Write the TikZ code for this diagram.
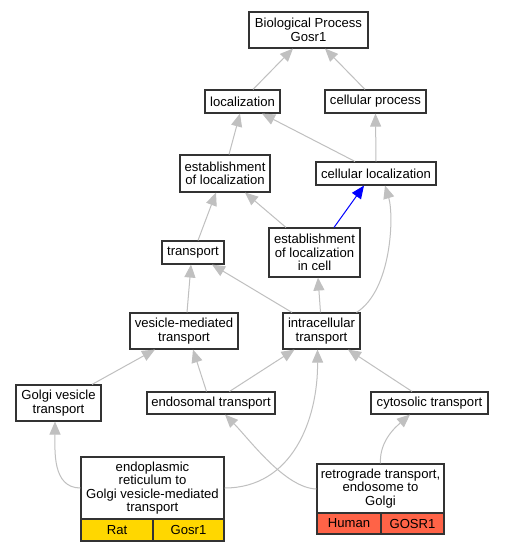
\documentclass[tikz,border=0pt]{standalone}
\usepackage{fontspec}
\setmainfont{Liberation Sans}
\usetikzlibrary{arrows.meta}
\definecolor{boxline}{HTML}{333333}
\definecolor{edgegray}{HTML}{C0C0C0}
\definecolor{ratyellow}{HTML}{FFD700}
\definecolor{humanred}{HTML}{FF6347}
\tikzset{
  term/.style={draw=boxline, line width=1.1pt, fill=white, align=center, inner sep=0pt,
    font=\fontsize{13.1}{13.4}\selectfont},
  cell/.style={draw=boxline, line width=1.1pt, align=center, inner sep=0pt,
    font=\fontsize{13.1}{13.4}\selectfont},
  isa/.style={draw=edgegray, line width=1pt, -{Triangle[length=13pt,width=11pt]}, color=edgegray},
  blueedge/.style={draw=blue, line width=1pt, -{Triangle[length=13pt,width=11pt]}, color=blue}
}
\begin{document}
\begin{tikzpicture}[x=1pt,y=-1pt]
\useasboundingbox (0,0) rectangle (504,552);
\fill[white] (0,0) rectangle (504,552);
% nodes
\node[term, minimum width=119pt, minimum height=36pt] (bp) at (308.5,30) {Biological Process\\Gosr1};
\node[term, minimum width=75pt, minimum height=23pt] (loc) at (242.5,101.5) {localization};
\node[term, minimum width=101pt, minimum height=23pt] (cp) at (375.5,101.5) {cellular process};
\node[term, minimum width=90pt, minimum height=37pt] (eol) at (225,173.5) {establishment\\of localization};
\node[term, minimum width=120pt, minimum height=23pt] (cl) at (376,173.5) {cellular localization};
\node[term, minimum width=62pt, minimum height=23pt] (tr) at (193,252.5) {transport};
\node[term, minimum width=91pt, minimum height=49pt] (eolc) at (314.5,252.5) {establishment\\of localization\\in cell};
\node[term, minimum width=108pt, minimum height=36pt] (vm) at (184,331) {vesicle-mediated\\transport};
\node[term, minimum width=77pt, minimum height=36pt] (it) at (321.5,331) {intracellular\\transport};
\node[term, minimum width=85pt, minimum height=36pt] (gvt) at (58.5,403) {Golgi vesicle\\transport};
\node[term, minimum width=128pt, minimum height=22pt] (end) at (211,403) {endosomal transport};
\node[term, minimum width=117pt, minimum height=22pt] (cyt) at (429.5,403) {cytosolic transport};
% ER to Golgi
\node[term, minimum width=143pt, minimum height=62pt] (er) at (152.5,488) {endoplasmic\\reticulum to\\Golgi vesicle-mediated\\transport};
\node[cell, fill=ratyellow, minimum width=72pt, minimum height=22pt] (errat) at (117,530) {Rat};
\node[cell, fill=ratyellow, minimum width=71pt, minimum height=22pt] (ergene) at (188.5,530) {Gosr1};
% retrograde
\node[term, minimum width=127pt, minimum height=49pt] (rt) at (380.5,488.5) {retrograde transport,\\endosome to\\Golgi};
\node[cell, fill=humanred, minimum width=64pt, minimum height=21pt] (rthum) at (349,523.5) {Human};
\node[cell, fill=humanred, minimum width=63pt, minimum height=21pt] (rtgene) at (412.5,523.5) {GOSR1};
% edges
\draw[isa] ([xshift=10.5]loc.north) -- ([xshift=-15.5]bp.south);
\draw[isa] ([xshift=-10.5]cp.north) -- ([xshift=16.5]bp.south);
\draw[isa] ([xshift=4]eol.north) -- ([xshift=-2.5]loc.south);
\draw[isa] ([xshift=-21]cl.north) -- ([xshift=19.5]loc.south);
\draw[isa] (cl.north) -- (cp.south);
\draw[isa] ([xshift=5]tr.north) -- ([xshift=-9]eol.south);
\draw[isa] ([xshift=-28.5]eolc.north) -- ([xshift=20]eol.south);
\draw[blueedge] ([xshift=19.5]eolc.north) -- ([xshift=-12]cl.south);
\draw[isa] ([xshift=35]it.north) .. controls (392,290) and (394,215) .. ([xshift=9]cl.south);
\draw[isa] ([xshift=3]vm.north) -- ([xshift=-2]tr.south);
\draw[isa] ([xshift=-29.5]it.north) -- ([xshift=19]tr.south);
\draw[isa] ([xshift=-1]it.north) -- ([xshift=3.5]eolc.south);
\draw[isa] ([xshift=33.5]gvt.north) -- ([xshift=-29]vm.south);
\draw[isa] ([xshift=-4.5]end.north) -- ([xshift=9]vm.south);
\draw[isa] ([xshift=18.5]end.north) -- ([xshift=-27]it.south);
\draw[isa] ([xshift=-17.5]cyt.north) -- ([xshift=26.5]it.south);
\draw[isa] (er.west) .. controls (52,488) and (55,450) .. ([xshift=-3.5]gvt.south);
\draw[isa] (er.east) .. controls (292,488) and (318,420) .. ([xshift=-4]it.south);
\draw[isa] ([yshift=-0.5]rt.west) .. controls (285,488) and (250,440) .. ([xshift=14]end.south);
\draw[isa] (rt.north) .. controls (379,440) and (398,425) .. ([xshift=-19.5]cyt.south);
\end{tikzpicture}
\end{document}
